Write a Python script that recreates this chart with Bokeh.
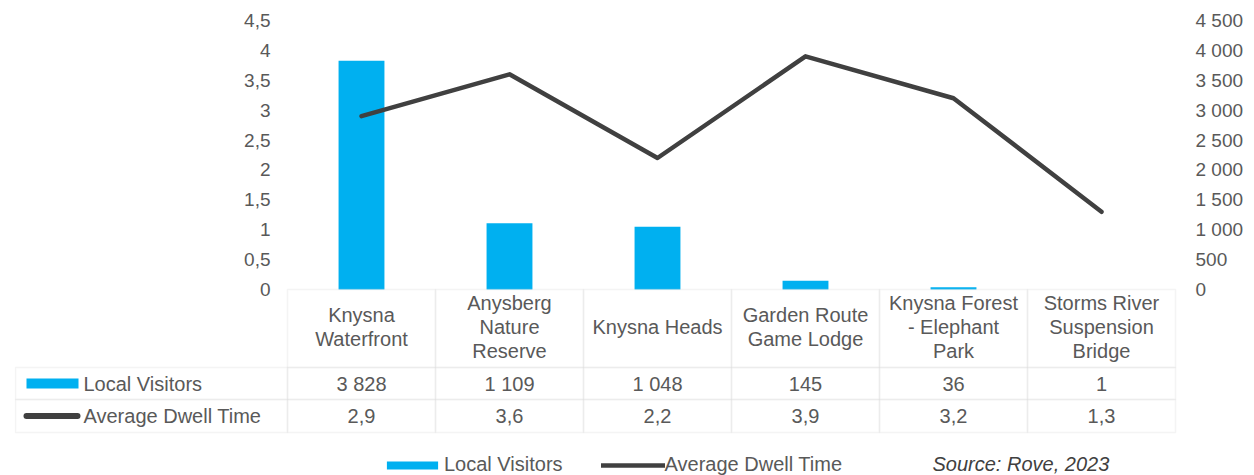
from bokeh.plotting import figure
from bokeh.models import (Range1d, LinearAxis, FixedTicker, BoxAnnotation,
                          Label, Legend, LegendItem, LinearScale)
from bokeh.embed import file_html
from bokeh.resources import INLINE
from bokeh.core.properties import value

# ---------------- data ----------------
categories = ["Knysna Waterfront", "Anysberg Nature Reserve", "Knysna Heads",
              "Garden Route Game Lodge", "Knysna Forest - Elephant Park",
              "Storms River Suspension Bridge"]
header_labels = ["Knysna\nWaterfront", "Anysberg\nNature\nReserve", "Knysna Heads",
                 "Garden Route\nGame Lodge", "Knysna Forest\n- Elephant\nPark",
                 "Storms River\nSuspension\nBridge"]
local_visitors = [3828, 1109, 1048, 145, 36, 1]
avg_dwell_time = [2.9, 3.6, 2.2, 3.9, 3.2, 1.3]
series_names = ["Local Visitors", "Average Dwell Time"]
dwell_ticks = [0, 0.5, 1, 1.5, 2, 2.5, 3, 3.5, 4, 4.5]
dwell_tick_labels = ["0", "0,5", "1", "1,5", "2", "2,5", "3", "3,5", "4", "4,5"]
visitor_ticks = [0, 500, 1000, 1500, 2000, 2500, 3000, 3500, 4000, 4500]
visitor_tick_labels = ["0", "500", "1 000", "1 500", "2 000", "2 500", "3 000",
                       "3 500", "4 000", "4 500"]
source_text = "Source: Rove, 2023"

visitor_cells = [f"{v:,}".replace(",", " ") for v in local_visitors]
dwell_cells = [f"{v:.1f}".replace(".", ",") for v in avg_dwell_time]
n = len(categories)
cat_x = [i + 0.5 for i in range(n)]          # centre of each category slot

# ---------------- layout constants ----------------
W, H = 1254, 475
PLOT_L, PLOT_R = 287, 1175
FRAME_L, FRAME_R, FRAME_T, FRAME_B = 14, 1177, 4, 475
TOP_Y = 20            # pixel row of the 4.5 / 4 500 gridline
ZERO_Y = 289
TABLE_LEFT = 15
ROWS = [289, 367, 399, 432]
DWELL_MAX = 4.5
VIS_MAX = 4500
px_per_unit = (ZERO_Y - TOP_Y) / DWELL_MAX
dwell_start = -(FRAME_B - ZERO_Y) / px_per_unit
dwell_end = (ZERO_Y - FRAME_T) / px_per_unit
vis_start = dwell_start * VIS_MAX / DWELL_MAX
vis_end = dwell_end * VIS_MAX / DWELL_MAX
COL_W = (PLOT_R - PLOT_L) / n

def hx(px):
    """horizontal pixel position -> category-slot coordinate"""
    return (px - PLOT_L) / COL_W

BLUE = "#00B0F0"
DARK = "#404040"
TXT = "#595959"
GRID = "#d9d9d9"
FONT = "Liberation Sans"

p = figure(width=W, height=H, x_range=Range1d(hx(FRAME_L), hx(FRAME_R)),
           y_range=Range1d(dwell_start, dwell_end),
           min_border_left=FRAME_L, min_border_right=W - FRAME_R, min_border_top=FRAME_T,
           min_border_bottom=0, x_axis_location=None, y_axis_location=None,
           output_backend="svg", toolbar_location=None)
p.outline_line_color = None
p.grid.visible = False
p.background_fill_color = "white"
p.border_fill_color = "white"

p.extra_y_ranges = {"visitors": Range1d(vis_start, vis_end), "tbl": Range1d(FRAME_B, FRAME_T)}
p.extra_y_scales = {"visitors": LinearScale(), "tbl": LinearScale()}

def style_axis(ax, ticks, labels, standoff):
    ax.ticker = FixedTicker(ticks=ticks)
    ax.major_label_overrides = {t: l for t, l in zip(ticks, labels)}
    ax.axis_line_color = None
    ax.major_tick_line_color = None
    ax.minor_tick_line_color = None
    ax.major_tick_out = 0
    ax.major_tick_in = 0
    ax.major_label_standoff = standoff
    ax.major_label_text_font = FONT
    ax.major_label_text_font_size = "19px"
    ax.major_label_text_color = TXT

left_axis = LinearAxis(fixed_location=0)
style_axis(left_axis, dwell_ticks, dwell_tick_labels, 17)
p.add_layout(left_axis, "left")
right_axis = LinearAxis(y_range_name="visitors")
style_axis(right_axis, visitor_ticks, visitor_tick_labels, 18)
p.add_layout(right_axis, "right")

# ---------------- series ----------------
bars = p.vbar(x=cat_x, top=local_visitors, bottom=0, width=0.31,
              y_range_name="visitors", fill_color=BLUE, line_color=None)
line = p.line(x=cat_x, y=avg_dwell_time, line_color=DARK, line_width=4.5,
              line_join="round", line_cap="round")

# ---------------- table grid ----------------
for i in range(n):
    for r in range(3):
        p.add_layout(BoxAnnotation(left=i, right=i + 1, top=ROWS[r], bottom=ROWS[r + 1],
                                   y_range_name="tbl", fill_alpha=0,
                                   line_color=GRID, line_width=1.5))
for r in (1, 2):
    p.add_layout(BoxAnnotation(left=hx(TABLE_LEFT), right=0, top=ROWS[r], bottom=ROWS[r + 1],
                               y_range_name="tbl", fill_alpha=0,
                               line_color=GRID, line_width=1.5))

header_y = (ROWS[0] + ROWS[1]) / 2 - 1.5
row1_y = (ROWS[1] + ROWS[2]) / 2
row2_y = (ROWS[2] + ROWS[3]) / 2

common = dict(text_align="center", text_baseline="middle", text_font=value(FONT),
              text_font_size="20px", text_color=TXT, y_range_name="tbl")
p.text(x=cat_x, y=[header_y] * n, text=header_labels, text_line_height=1.1, **common)
p.text(x=cat_x, y=[row1_y] * n, text=visitor_cells, **common)
p.text(x=cat_x, y=[row2_y] * n, text=dwell_cells, **common)

# row headers with swatches
p.add_layout(BoxAnnotation(left=hx(26), right=hx(78), top=row1_y - 5, bottom=row1_y + 5,
                           y_range_name="tbl", fill_color=BLUE,
                           fill_alpha=1, line_alpha=0))
p.add_layout(BoxAnnotation(left=hx(23), right=hx(80), top=row2_y - 3, bottom=row2_y + 3,
                           y_range_name="tbl", fill_color=DARK,
                           fill_alpha=1, line_alpha=0, border_radius=3))
for name, yy in zip(series_names, [row1_y, row2_y]):
    p.add_layout(Label(x=hx(83), y=yy, text=name, y_range_name="tbl",
                       text_baseline="middle", text_font=FONT, text_font_size="20px",
                       text_color=TXT))

# ---------------- legend ----------------
legend = Legend(items=[LegendItem(label=series_names[0], renderers=[bars]),
                       LegendItem(label=series_names[1], renderers=[line])],
                orientation="horizontal", location=(380 - FRAME_L, -1), glyph_width=64,
                glyph_height=10, label_standoff=0, spacing=38, padding=0, margin=0,
                border_line_alpha=0, background_fill_alpha=0,
                label_text_font=FONT, label_text_font_size="20px",
                label_text_color=TXT)
p.add_layout(legend)

p.add_layout(Label(x=hx(932), y=463, text=source_text, y_range_name="tbl",
                   text_baseline="middle", text_font=FONT, text_font_size="20px",
                   text_font_style="italic", text_color=DARK))

open("out.html", "w").write(file_html(p, INLINE))
